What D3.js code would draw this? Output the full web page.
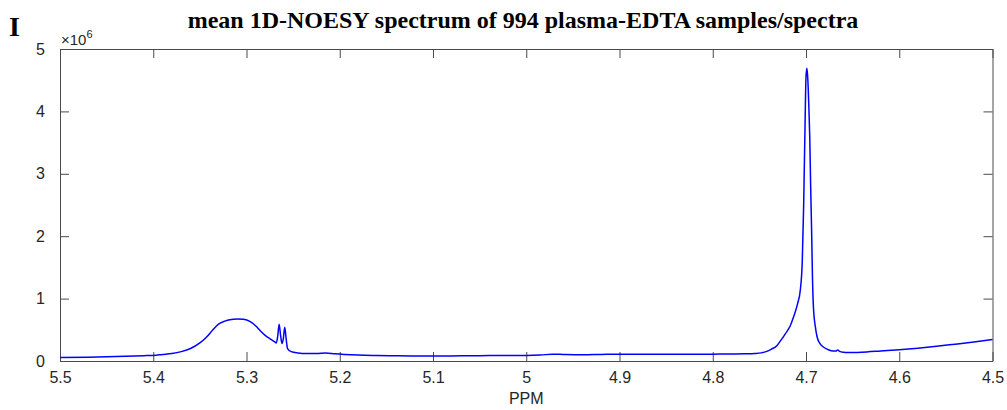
<!DOCTYPE html>
<html>
<head>
<meta charset="utf-8">
<script src="https://cdn.jsdelivr.net/npm/d3@7"></script>
<style>
  html, body { margin: 0; padding: 0; background: #fff; }
  svg { display: block; }
</style>
</head>
<body>
<svg id="chart" width="1007" height="410"></svg>
<script>
// ---- data ----
const ppm = [
  5.500, 5.470, 5.440, 5.410, 5.400, 5.390, 5.380, 5.370, 5.360, 5.350,
  5.343, 5.336, 5.330, 5.324, 5.318, 5.310, 5.303, 5.296, 5.290, 5.285,
  5.280, 5.275, 5.270, 5.268, 5.2665, 5.265, 5.2635, 5.262, 5.2605, 5.259,
  5.2575, 5.256, 5.252, 5.245, 5.235, 5.225, 5.215, 5.205, 5.195, 5.180,
  5.160, 5.140, 5.120, 5.100, 5.080, 5.060, 5.040, 5.020, 5.000, 4.985,
  4.972, 4.960, 4.940, 4.920, 4.900, 4.880, 4.860, 4.840, 4.820, 4.800,
  4.780, 4.765, 4.755, 4.748, 4.742, 4.737, 4.731, 4.727, 4.722, 4.717,
  4.713, 4.709, 4.706, 4.704, 4.7025, 4.701, 4.700, 4.699, 4.698, 4.697,
  4.696, 4.695, 4.694, 4.693, 4.692, 4.690, 4.688, 4.685, 4.681, 4.676,
  4.671, 4.668, 4.666, 4.664, 4.660, 4.655, 4.645, 4.635, 4.620, 4.600,
  4.580, 4.560, 4.540, 4.520, 4.500
];
const intensity = [ // x 10^6
  0.055, 0.062, 0.072, 0.085, 0.090, 0.105, 0.120, 0.150, 0.200, 0.290,
  0.380, 0.500, 0.590, 0.635, 0.660, 0.672, 0.668, 0.630, 0.560, 0.480,
  0.410, 0.360, 0.310, 0.290, 0.400, 0.590, 0.420, 0.280, 0.360, 0.540,
  0.360, 0.200, 0.150, 0.130, 0.120, 0.120, 0.130, 0.115, 0.105, 0.095,
  0.088, 0.083, 0.080, 0.080, 0.082, 0.085, 0.087, 0.090, 0.090, 0.095,
  0.110, 0.105, 0.100, 0.105, 0.110, 0.108, 0.110, 0.110, 0.110, 0.110,
  0.112, 0.115, 0.120, 0.130, 0.155, 0.190, 0.250, 0.330, 0.440, 0.560,
  0.720, 0.920, 1.150, 1.600, 2.500, 3.800, 4.550, 4.690, 4.500, 4.100,
  3.600, 2.800, 2.100, 1.300, 0.850, 0.550, 0.380, 0.280, 0.220, 0.180,
  0.160, 0.160, 0.175, 0.155, 0.140, 0.135, 0.138, 0.145, 0.160, 0.180,
  0.205, 0.235, 0.270, 0.305, 0.345
];
const xTicks = [5.5, 5.4, 5.3, 5.2, 5.1, 5, 4.9, 4.8, 4.7, 4.6, 4.5];
const yTicks = [0, 1, 2, 3, 4, 5];
const titleText = "mean 1D-NOESY spectrum of 994 plasma-EDTA samples/spectra";
const panelLabel = "I";
const xLabel = "PPM";

// ---- layout ----
const svg = d3.select("#chart");
const mLeft = 60, mRight = 992.5, mTop = 49, mBottom = 361;
const x = d3.scaleLinear().domain([5.5, 4.5]).range([mLeft, mRight]);
const y = d3.scaleLinear().domain([0, 5]).range([mBottom, mTop]);
const axisColor = "#262626";
const lineColor = "#4a4a4a";
const tickLen = 9;
const fontSans = "'Liberation Sans', Arial, Helvetica, sans-serif";

// titles
svg.append("text").attr("x", 9).attr("y", 36)
  .attr("font-family", "'Liberation Serif', 'Times New Roman', serif")
  .attr("font-weight", "bold").attr("font-size", 28).attr("fill", "#000")
  .text(panelLabel);
svg.append("text").attr("x", 523).attr("y", 28).attr("text-anchor", "middle")
  .attr("font-family", "'Liberation Serif', 'Times New Roman', serif")
  .attr("font-weight", "bold").attr("font-size", 24).attr("fill", "#000")
  .text(titleText);

// plot background
svg.append("rect").attr("x", mLeft).attr("y", mTop)
  .attr("width", mRight - mLeft).attr("height", mBottom - mTop).attr("fill", "#fff");

// axes
const xAxisB = d3.axisBottom(x).tickValues(xTicks).tickSizeInner(-tickLen).tickSizeOuter(0)
  .tickPadding(tickLen + 2).tickFormat(d3.format("~g"));
const xAxisT = d3.axisTop(x).tickValues(xTicks).tickSizeInner(-tickLen).tickSizeOuter(0).tickFormat("");
const yAxisL = d3.axisLeft(y).tickValues(yTicks).tickSizeInner(-tickLen).tickSizeOuter(0)
  .tickPadding(tickLen + 6).tickFormat(d3.format("d"));
const yAxisR = d3.axisRight(y).tickValues(yTicks).tickSizeInner(-tickLen).tickSizeOuter(0).tickFormat("");

function style(g) {
  g.selectAll("path.domain").attr("stroke", lineColor).attr("stroke-width", 1);
  g.selectAll(".tick line").attr("stroke", lineColor).attr("stroke-width", 1);
  g.selectAll(".tick text").attr("fill", axisColor).attr("font-family", fontSans).attr("font-size", 16);
}
svg.append("g").attr("transform", `translate(0,${mBottom})`).call(xAxisB).call(style);
svg.append("g").attr("transform", `translate(0,${mTop})`).call(xAxisT).call(style);
svg.append("g").attr("transform", `translate(${mLeft},0)`).call(yAxisL).call(style);
svg.append("g").attr("transform", `translate(${mRight},0)`).call(yAxisR).call(style);

// exponent label
const ex = svg.append("text").attr("x", mLeft + 1).attr("y", 45)
  .attr("font-family", fontSans).attr("font-size", 15).attr("fill", axisColor);
ex.append("tspan").text("\u00d710");
ex.append("tspan").attr("dy", -7).attr("font-size", 11).text("6");

// x label
svg.append("text").attr("x", (mLeft + mRight) / 2).attr("y", 404).attr("text-anchor", "middle")
  .attr("font-family", fontSans).attr("font-size", 16).attr("fill", axisColor)
  .text(xLabel);

// line
const data = ppm.map((p, i) => ({ p, v: intensity[i] }));
const line = d3.line().x(d => x(d.p)).y(d => y(d.v)).curve(d3.curveMonotoneX);
svg.append("path").datum(data).attr("d", line)
  .attr("fill", "none").attr("stroke", "#0000ff").attr("stroke-width", 1.5)
  .attr("stroke-linejoin", "round");
</script>
</body>
</html>
